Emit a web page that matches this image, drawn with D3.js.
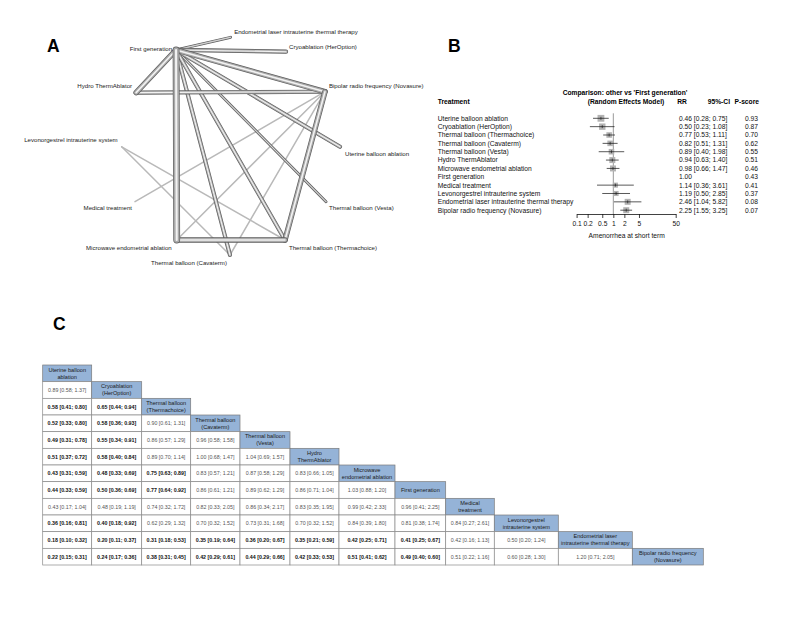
<!DOCTYPE html>
<html><head><meta charset="utf-8">
<script src="https://cdn.jsdelivr.net/npm/d3@7"></script>
<style>body{margin:0;background:#fff} svg{display:block} text{font-family:"Liberation Sans",Arial,sans-serif}</style>
</head><body><svg id="c" width="787" height="630"></svg>
<script>
// ===== Panel A: network data =====
const netNodes = ["First generation","Endometrial laser intrauterine thermal therapy","Cryoablation (HerOption)","Hydro ThermAblator","Bipolar radio frequency  (Novasure)","Uterine balloon ablation","Levonorgestrel intrauterine system","Medical treatment","Thermal balloon (Vesta)","Microwave endometrial ablation","Thermal balloon (Thermachoice)","Thermal balloon (Cavaterm)"];
const netEdgeFrom = [0,0,0,0,0,0,0,0,0,3,4,9,4,4,4,6,6];
const netEdgeTo   = [1,2,3,4,5,9,11,10,8,4,10,10,9,11,7,11,10];
const netEdgeStudies = [2,3,4,4,3,5,3,3,2,3,4,4,1,1,1,1,1];
// layout (normalised circle layout) and label placement
const netLayout = [[0.249,0.058],[0.499,0],[0.753,0.066],[0.066,0.254],[0.931,0.250],[1,0.503],[0,0.503],[0.061,0.755],[0.936,0.755],[0.252,0.931],[0.748,0.931],[0.496,1]];
const netLabelPos = [[-4,1,"end"],[3.5,-3.5,"start"],[3,-3,"start"],[-4,-4.5,"end"],[4,-4,"start"],[5,9,"start"],[-4,-4.7,"end"],[-3,8.6,"end"],[3,8.5,"start"],[-5,10.3,"end"],[4,10,"start"],[-3,9.7,"end"]];

// ===== Panel B: forest data =====
const forestNames = ["Uterine balloon ablation","Cryoablation (HerOption)","Thermal balloon (Thermachoice)","Thermal balloon (Cavaterm)","Thermal balloon (Vesta)","Hydro ThermAblator","Microwave endometrial ablation","First generation","Medical treatment","Levonorgestrel intrauterine system","Endometrial laser intrauterine thermal therapy","Bipolar radio frequency  (Novasure)"];
const forestRR = [0.46,0.50,0.77,0.82,0.89,0.94,0.98,1.00,1.14,1.19,2.46,2.25];
const forestLo = [0.28,0.23,0.53,0.51,0.40,0.63,0.66,null,0.36,0.50,1.04,1.55];
const forestHi = [0.75,1.08,1.11,1.31,1.98,1.40,1.47,null,3.61,2.85,5.82,3.25];
const forestP  = [0.93,0.87,0.70,0.62,0.55,0.51,0.46,0.43,0.41,0.37,0.08,0.07];
const forestWeight = [9,8,6,6,6,7,7,0,5,5,7,7];
const forestTicks = [0.1,0.2,0.5,1,2,5,50];

// ===== Panel C: league table data =====
const leagueNames = ["Uterine balloon ablation","Cryoablation (HerOption)","Thermal balloon (Thermachoice)","Thermal balloon (Cavaterm)","Thermal balloon (Vesta)","Hydro ThermAblator","Microwave endometrial ablation","First generation","Medical treatment","Levonorgestrel intrauterine system","Endometrial laser intrauterine thermal therapy","Bipolar radio frequency (Novasure)"];
const leagueHeader = [["Uterine balloon","ablation"],["Cryoablation","(HerOption)"],["Thermal balloon","(Thermachoice)"],["Thermal balloon","(Cavaterm)"],["Thermal balloon","(Vesta)"],["Hydro","ThermAblator"],["Microwave","endometrial ablation"],["First generation"],["Medical","treatment"],["Levonorgestrel","intrauterine system"],["Endometrial laser","intrauterine thermal therapy"],["Bipolar radio frequency","(Novasure)"]];
const leagueRR = [[],
 [0.89],
 [0.58,0.65],
 [0.52,0.58,0.90],
 [0.49,0.55,0.86,0.96],
 [0.51,0.58,0.89,1.00,1.04],
 [0.43,0.48,0.75,0.83,0.87,0.83],
 [0.44,0.50,0.77,0.86,0.89,0.86,1.03],
 [0.43,0.48,0.74,0.82,0.86,0.83,0.99,0.96],
 [0.36,0.40,0.62,0.70,0.73,0.70,0.84,0.81,0.84],
 [0.18,0.20,0.31,0.35,0.36,0.35,0.42,0.41,0.42,0.50],
 [0.22,0.24,0.38,0.42,0.44,0.42,0.51,0.49,0.51,0.60,1.20]];
const leagueLo = [[],
 [0.58],
 [0.41,0.44],
 [0.33,0.36,0.61],
 [0.31,0.34,0.57,0.58],
 [0.37,0.40,0.70,0.68,0.69],
 [0.31,0.33,0.63,0.57,0.58,0.66],
 [0.33,0.36,0.64,0.61,0.62,0.71,0.88],
 [0.17,0.19,0.32,0.33,0.34,0.35,0.42,0.41],
 [0.16,0.18,0.29,0.32,0.31,0.32,0.39,0.38,0.27],
 [0.10,0.11,0.18,0.19,0.20,0.21,0.25,0.25,0.16,0.20],
 [0.15,0.17,0.31,0.29,0.29,0.33,0.41,0.40,0.22,0.28,0.71]];
const leagueHi = [[],
 [1.37],
 [0.80,0.94],
 [0.80,0.93,1.31],
 [0.78,0.91,1.29,1.58],
 [0.72,0.84,1.14,1.47,1.57],
 [0.59,0.69,0.89,1.21,1.29,1.05],
 [0.59,0.69,0.92,1.21,1.29,1.04,1.20],
 [1.04,1.19,1.72,2.05,2.17,1.95,2.33,2.25],
 [0.81,0.92,1.32,1.52,1.68,1.52,1.80,1.74,2.61],
 [0.32,0.37,0.53,0.64,0.67,0.59,0.71,0.67,1.13,1.24],
 [0.31,0.36,0.45,0.61,0.66,0.53,0.62,0.60,1.16,1.30,2.05]];
const leagueColW = [49,50,49,49.3,50,49,56,50.7,48.6,64,74,71];

const svg = d3.select("#c");
const f2 = d3.format(".2f");

// Panel letters
[["A",47,52],["B",448,52],["C",53,330]].forEach(([t,x,y])=>{
  svg.append("text").attr("x",x).attr("y",y).attr("font-size",17.5).attr("font-weight","bold").attr("fill","#000").text(t);
});

// ===== Panel A =====
const xA = d3.scaleLinear().domain([0,1]).range([121.7,340]);
const yA = d3.scaleLinear().domain([0,1]).range([37.3,255]);
const wA = d3.scaleLinear().domain([1,5]).range([1.5,6.8]);
const edges = netEdgeFrom.map((s,i)=>({s, t:netEdgeTo[i], n:netEdgeStudies[i]}))
  .sort((a,b)=>a.n-b.n);
const gA = svg.append("g");
edges.forEach(e=>{
  const p = {x1:xA(netLayout[e.s][0]), y1:yA(netLayout[e.s][1]), x2:xA(netLayout[e.t][0]), y2:yA(netLayout[e.t][1])};
  const w = wA(e.n);
  const layers = e.n===1 ? [["#b9b9b9",w]] : [["#5c5c5c",w],["#a9a9a9",w-1.3],["#f2f2f2",Math.max(0.6,(w-1.3)*0.38)]];
  layers.forEach(([c,sw])=>{
    gA.append("line").attr("x1",p.x1).attr("y1",p.y1).attr("x2",p.x2).attr("y2",p.y2)
      .attr("stroke",c).attr("stroke-width",sw).attr("stroke-linecap","round");
  });
});
netNodes.forEach((n,i)=>{
  const [dx,dy,anc] = netLabelPos[i];
  gA.append("text").attr("x",xA(netLayout[i][0])+dx).attr("y",yA(netLayout[i][1])+dy)
    .attr("font-size",6.1).attr("fill","#222").attr("text-anchor",anc).text(n);
});

// ===== Panel B =====
const gB = svg.append("g");
const xB = d3.scaleLog().domain([0.1,50]).range([576.6,675.7]);
const yB = d3.scalePoint().domain(forestNames).range([118.3,210.2]);
const sB = d3.scaleSqrt().domain([0,9]).range([0,6.8]);
const fsB = 6.7;
gB.append("text").attr("x",625).attr("y",95).attr("text-anchor","middle").attr("font-size",fsB).attr("font-weight","bold").text("Comparison: other vs 'First generation'");
gB.append("text").attr("x",626).attr("y",104).attr("text-anchor","middle").attr("font-size",fsB).attr("font-weight","bold").text("(Random Effects Model)");
gB.append("text").attr("x",437.7).attr("y",104).attr("font-size",fsB).attr("font-weight","bold").text("Treatment");
gB.append("text").attr("x",682).attr("y",104).attr("text-anchor","middle").attr("font-size",fsB).attr("font-weight","bold").text("RR");
gB.append("text").attr("x",730).attr("y",104).attr("text-anchor","end").attr("font-size",fsB).attr("font-weight","bold").text("95%-CI");
gB.append("text").attr("x",759).attr("y",104).attr("text-anchor","end").attr("font-size",fsB).attr("font-weight","bold").text("P-score");
// reference line
gB.append("line").attr("x1",xB(1)).attr("x2",xB(1)).attr("y1",yB(forestNames[0])-5).attr("y2",214).attr("stroke","#9a9a9a").attr("stroke-width",1);
forestNames.forEach((n,i)=>{
  const y = yB(n);
  gB.append("text").attr("x",437.7).attr("y",y+2.4).attr("font-size",fsB).attr("fill","#111").text(n);
  const lab = forestLo[i]==null ? f2(forestRR[i]) : `${f2(forestRR[i])} [${f2(forestLo[i])}; ${f2(forestHi[i])}]`;
  gB.append("text").attr("x",679).attr("y",y+2.4).attr("font-size",fsB).attr("fill","#111").text(lab);
  gB.append("text").attr("x",758).attr("y",y+2.4).attr("text-anchor","end").attr("font-size",fsB).attr("fill","#111").text(f2(forestP[i]));
  if (forestLo[i]!=null){
    const s = sB(forestWeight[i]);
    gB.append("rect").attr("x",xB(forestRR[i])-s/2).attr("y",y-s/2).attr("width",s).attr("height",s).attr("fill","#b3b3b3");
    gB.append("line").attr("x1",xB(forestLo[i])).attr("x2",xB(forestHi[i])).attr("y1",y).attr("y2",y).attr("stroke","#111").attr("stroke-width",0.7);
    gB.append("line").attr("x1",xB(forestRR[i])).attr("x2",xB(forestRR[i])).attr("y1",y-1.5).attr("y2",y+1.5).attr("stroke","#111").attr("stroke-width",0.6);
  }
});
const axB = gB.append("g").attr("transform","translate(0,214)")
  .call(d3.axisBottom(xB).tickValues(forestTicks).tickFormat(d=>String(d)).tickSize(4).tickSizeOuter(0).tickPadding(3));
axB.selectAll("text").attr("font-size",fsB).attr("font-family","Liberation Sans, Arial, sans-serif").attr("fill","#111");
axB.selectAll("line,path").attr("stroke","#111").attr("stroke-width",0.8);
gB.append("text").attr("x",626.7).attr("y",238).attr("text-anchor","middle").attr("font-size",fsB).attr("fill","#111").text("Amenorrhea at short term");

// ===== Panel C =====
const gC = svg.append("g");
const colX = [42.7];
leagueColW.forEach((w,i)=>colX.push(colX[i]+w));
const yC = d3.scaleBand().domain(d3.range(leagueNames.length)).range([365,565]);
const rh = yC.bandwidth();
leagueNames.forEach((name,r)=>{
  const y = yC(r);
  leagueRR[r].forEach((v,c)=>{
    const lo = leagueLo[r][c], hi = leagueHi[r][c];
    const sig = hi < 1 || lo > 1;
    gC.append("rect").attr("x",colX[c]).attr("y",y).attr("width",leagueColW[c]).attr("height",rh)
      .attr("fill","#fff").attr("stroke","#8a8a8a").attr("stroke-width",0.7);
    gC.append("text").attr("x",colX[c]+leagueColW[c]/2).attr("y",y+rh/2+1.9).attr("text-anchor","middle")
      .attr("font-size",5.3).attr("font-weight",sig?"bold":"normal").attr("fill",sig?"#111":"#555")
      .text(`${f2(v)} [${f2(lo)}; ${f2(hi)}]`);
  });
  gC.append("rect").attr("x",colX[r]).attr("y",y).attr("width",leagueColW[r]).attr("height",rh)
    .attr("fill","#95b3d7").attr("stroke","#7a7a7a").attr("stroke-width",0.7);
  const lines = leagueHeader[r];
  lines.forEach((t,k)=>{
    const off = lines.length===1 ? 2 : (k===0 ? -1.6 : 5.2);
    gC.append("text").attr("x",colX[r]+leagueColW[r]/2).attr("y",y+rh/2+off).attr("text-anchor","middle")
      .attr("font-size",5.6).attr("fill","#1a1a1a").text(t);
  });
});
</script></body></html>
